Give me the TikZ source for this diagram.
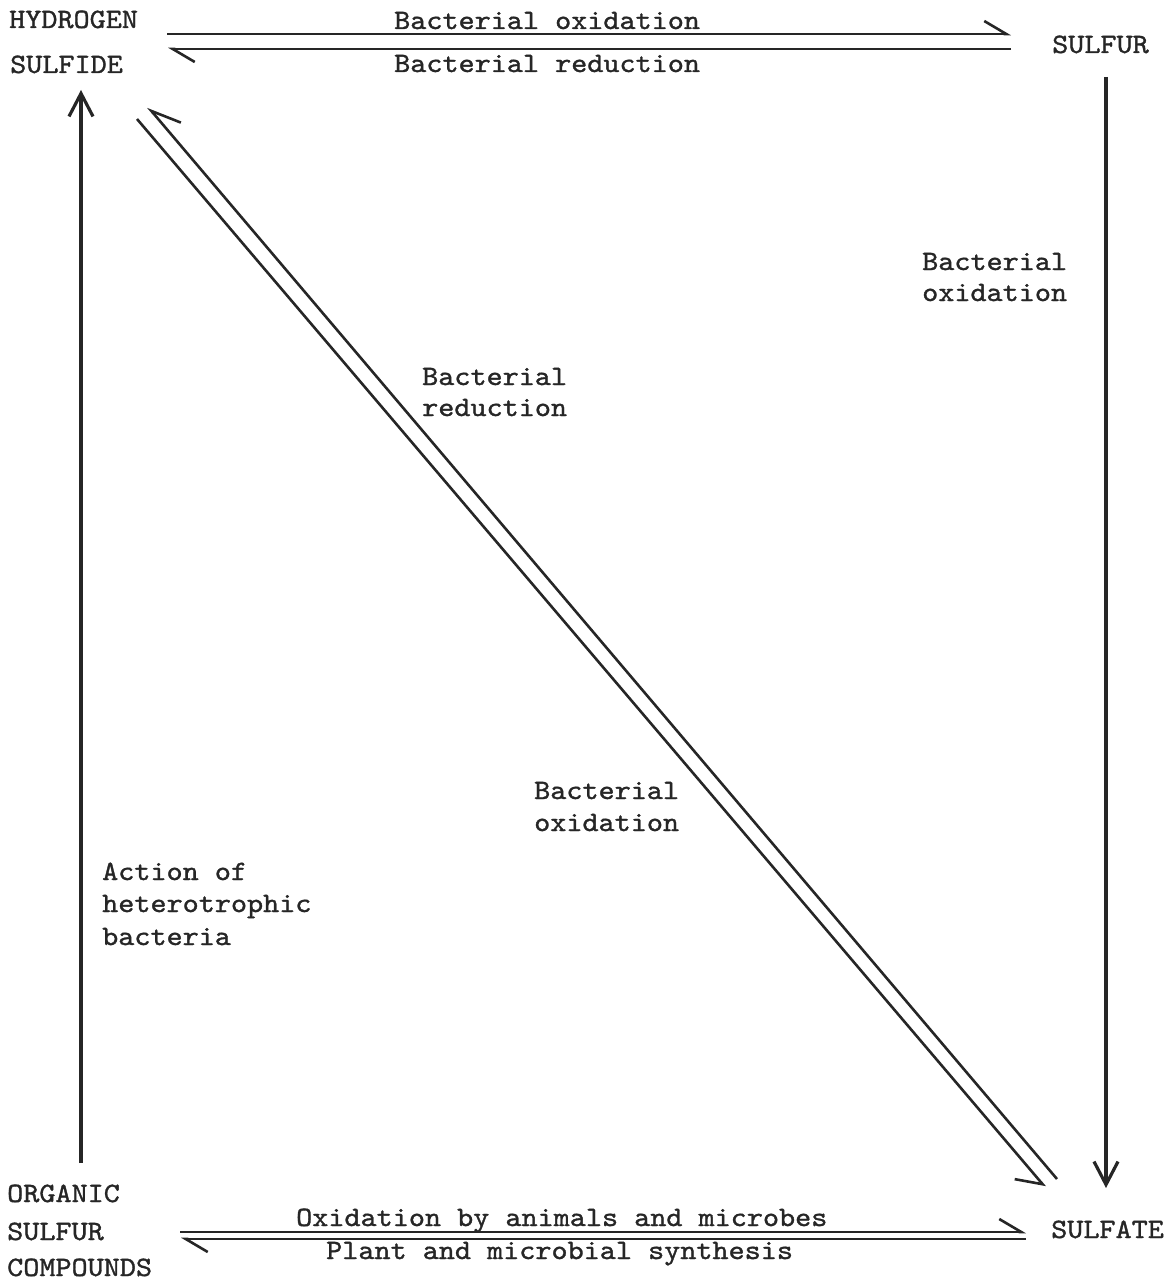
\documentclass[tikz,border=0pt]{standalone}
\usepackage{fontspec}
\newfontfamily\tw{lmmono10-regular.otf}[FakeStretch=1.095,FakeBold=1.2]
\usetikzlibrary{arrows.meta}
\begin{document}
\begin{tikzpicture}[x=1pt,y=-1pt,
  lbl/.style={font=\tw\fontsize{28}{28}\selectfont, inner sep=0pt, anchor=base west, text=black!85},
  conn/.style={line width=2.6pt, draw=black!85},
  harpl/.style={conn, -{Straight Barb[left,length=22pt,width=26pt,line width=2.6pt]}},
  harptop/.style={conn, -{Straight Barb[right,length=28pt,width=30pt,line width=2.6pt]}},
  harpbot/.style={conn, -{Straight Barb[right,length=22pt,width=36pt,line width=2.6pt]}},
  fullarr/.style={line width=3.2pt, draw=black!85, -{Straight Barb[length=23pt,width=24pt,line width=3.2pt]}}]
\useasboundingbox (0,0) rectangle (1174,1284);
% compound labels
\node[lbl] (h2s1) at (9,28) {HYDROGEN};
\node[lbl] (h2s2) at (10,73) {SULFIDE};
\node[lbl] (sulfur) at (1052,53) {SULFUR};
\node[lbl] (sulfate) at (1051,1238) {SULFATE};
\node[lbl] (org1) at (7,1202) {ORGANIC};
\node[lbl] (org2) at (7,1240) {SULFUR};
\node[lbl] (org3) at (7,1276) {COMPOUNDS};
% process labels
\node[lbl] (topox) at (394,29) {Bacterial oxidation};
\node[lbl] (topred) at (394,72) {Bacterial reduction};
\node[lbl] (rox1) at (922,270) {Bacterial};
\node[lbl] (rox2) at (922,301) {oxidation};
\node[lbl] (dred1) at (422,385) {Bacterial};
\node[lbl] (dred2) at (422,416) {reduction};
\node[lbl] (dox1) at (534,799) {Bacterial};
\node[lbl] (dox2) at (534,831) {oxidation};
\node[lbl] (act1) at (102,880) {Action of};
\node[lbl] (act2) at (102,912) {heterotrophic};
\node[lbl] (act3) at (102,945) {bacteria};
\node[lbl] (botox) at (296,1226) {Oxidation by animals and microbes};
\node[lbl] (botsyn) at (326,1259) {Plant and microbial synthesis};
% connector end points
\coordinate (hsA) at (167,34);  \coordinate (sA) at (1011,34);
\coordinate (sB) at (1011,49);  \coordinate (hsB) at (168,49);
\coordinate (sV) at (1106,77);  \coordinate (saV) at (1106,1188);
\coordinate (orV) at (81,1163); \coordinate (hsV) at (81,90);
\coordinate (saD) at (1057,1179); \coordinate (hsD) at (148,107);
\coordinate (hsE) at (137,119); \coordinate (saE) at (1045,1187);
\coordinate (orA) at (180,1232); \coordinate (saA) at (1026,1232);
\coordinate (saB) at (1026,1239); \coordinate (orB) at (181,1239);
% connectors
\draw[harpl] (hsA) -- (sA);
\draw[harpl] (sB) -- (hsB);
\draw[fullarr] (sV) -- (saV);
\draw[fullarr] (orV) -- (hsV);
\draw[harptop] (saD) -- (hsD);
\draw[harpbot] (hsE) -- (saE);
\draw[harpl] (orA) -- (saA);
\draw[harpl] (saB) -- (orB);
\end{tikzpicture}
\end{document}
